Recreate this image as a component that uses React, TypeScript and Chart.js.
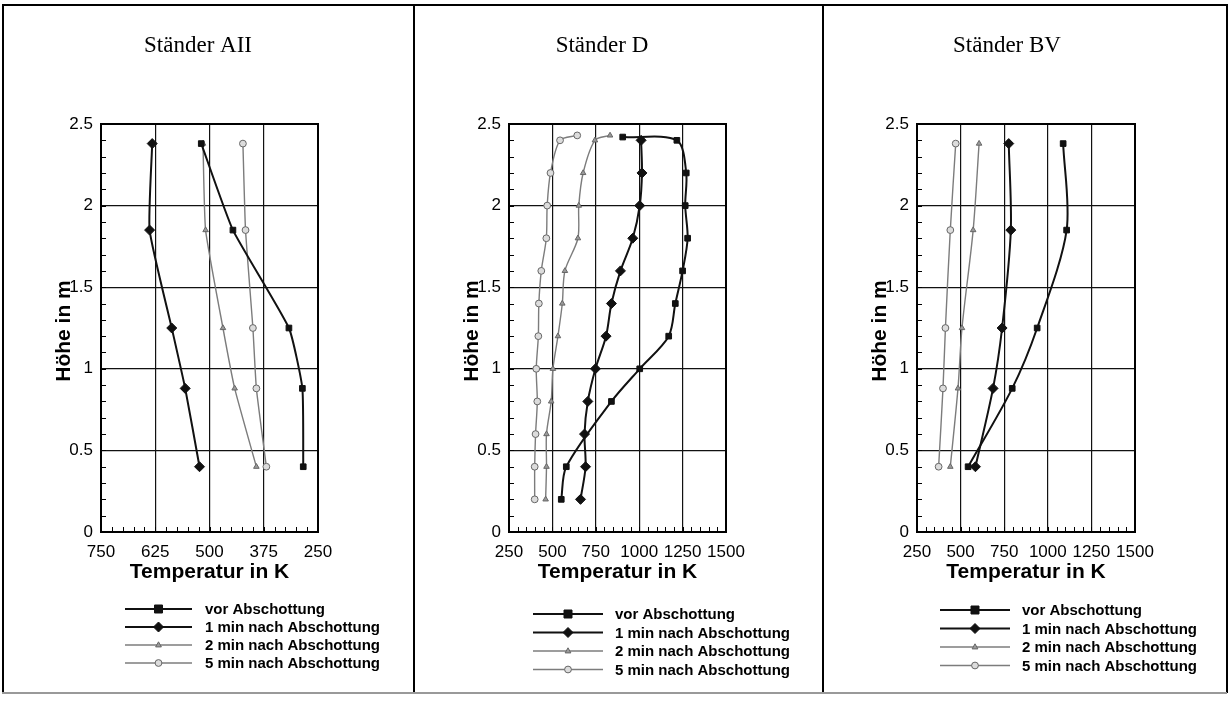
import React, { useEffect, useRef } from "react";
import { Chart, registerables } from "chart.js";
Chart.register(...registerables);

const SERIES_LABELS = [
  "vor Abschottung",
  "1 min nach Abschottung",
  "2 min nach Abschottung",
  "5 min nach Abschottung",
];

const Y_TICKS = [0, 0.5, 1, 1.5, 2, 2.5];

// Ständer AII
const A_HEIGHTS = [0.4, 0.88, 1.25, 1.85, 2.38];
const A_VOR = [284, 286, 317, 446, 519];
const A_1MIN = [523, 556, 587, 638, 632];
const A_2MIN = [392, 442, 469, 509, 515];
const A_5MIN = [369, 392, 400, 417, 423];
const A_X_TICKS = [750, 625, 500, 375, 250];

// Ständer D
const D_VOR_H = [0.2, 0.4, 0.8, 1.0, 1.2, 1.4, 1.6, 1.8, 2.0, 2.2, 2.4, 2.42];
const D_VOR = [551, 580, 840, 1003, 1170, 1208, 1250, 1279, 1265, 1271, 1217, 905];
const D_1MIN_H = [0.2, 0.4, 0.6, 0.8, 1.0, 1.2, 1.4, 1.6, 1.8, 2.0, 2.2, 2.4];
const D_1MIN = [662, 691, 685, 704, 748, 809, 840, 892, 963, 1003, 1016, 1011];
const D_2MIN_H = [0.2, 0.4, 0.6, 0.8, 1.0, 1.2, 1.4, 1.6, 1.8, 2.0, 2.2, 2.4, 2.43];
const D_2MIN = [461, 466, 466, 493, 503, 532, 557, 572, 647, 652, 677, 745, 832];
const D_5MIN_H = [0.2, 0.4, 0.6, 0.8, 1.0, 1.2, 1.4, 1.6, 1.8, 2.0, 2.2, 2.4, 2.43];
const D_5MIN = [398, 398, 403, 413, 407, 419, 422, 436, 465, 470, 489, 544, 643];
const D_X_TICKS = [250, 500, 750, 1000, 1250, 1500];

// Ständer BV
const B_HEIGHTS = [0.4, 0.88, 1.25, 1.85, 2.38];
const B_VOR = [543, 796, 939, 1108, 1088];
const B_1MIN = [585, 686, 738, 788, 776];
const B_2MIN = [441, 485, 508, 572, 606];
const B_5MIN = [374, 399, 413, 441, 472];
const B_X_TICKS = [250, 500, 750, 1000, 1250, 1500];

const STYLES = [
  { line: "#111", width: 2, point: "rect", radius: 4, fill: "#111", stroke: "#111" },
  { line: "#111", width: 2, point: "rectRot", radius: 5, fill: "#111", stroke: "#111" },
  { line: "#7c7c7c", width: 1.4, point: "triangle", radius: 3.2, fill: "#9a9a9a", stroke: "#666" },
  { line: "#7c7c7c", width: 1.4, point: "circle", radius: 3.4, fill: "#dcdcdc", stroke: "#666" },
];

const zip = (h: number[], t: number[]) => h.map((y, i) => ({ x: t[i], y }));

const PANELS = [
  {
    title: "Ständer AII",
    titleX: 198,
    cx: 0,
    cw: 414,
    plot: { l: 101, r: 318, t: 124, b: 532 },
    xMin: 250,
    xMax: 750,
    reverse: true,
    xTicks: A_X_TICKS,
    xMinor: 25,
    tension: 0.15,
    legend: { x0: 125, x1: 192, tx: 205, y0: 609, gap: 18 },
    series: [zip(A_HEIGHTS, A_VOR), zip(A_HEIGHTS, A_1MIN), zip(A_HEIGHTS, A_2MIN), zip(A_HEIGHTS, A_5MIN)],
  },
  {
    title: "Ständer D",
    titleX: 602,
    cx: 414,
    cw: 409,
    plot: { l: 509, r: 726, t: 124, b: 532 },
    xMin: 250,
    xMax: 1500,
    reverse: false,
    xTicks: D_X_TICKS,
    xMinor: 50,
    tension: 0.3,
    legend: { x0: 533, x1: 603, tx: 615, y0: 614, gap: 18.5 },
    series: [zip(D_VOR_H, D_VOR), zip(D_1MIN_H, D_1MIN), zip(D_2MIN_H, D_2MIN), zip(D_5MIN_H, D_5MIN)],
  },
  {
    title: "Ständer BV",
    titleX: 1007,
    cx: 823,
    cw: 406,
    plot: { l: 917, r: 1135, t: 124, b: 532 },
    xMin: 250,
    xMax: 1500,
    reverse: false,
    xTicks: B_X_TICKS,
    xMinor: 50,
    tension: 0.3,
    legend: { x0: 940, x1: 1010, tx: 1022, y0: 610, gap: 18.5 },
    series: [zip(B_HEIGHTS, B_VOR), zip(B_HEIGHTS, B_1MIN), zip(B_HEIGHTS, B_2MIN), zip(B_HEIGHTS, B_5MIN)],
  },
];

const H = 701;
const X_AXIS_H = 40;

function drawMarker(ctx: CanvasRenderingContext2D, kind: string, x: number, y: number, r: number, fill: string, stroke: string) {
  ctx.save();
  ctx.fillStyle = fill;
  ctx.strokeStyle = stroke;
  ctx.lineWidth = 1;
  ctx.beginPath();
  if (kind === "rect") {
    ctx.rect(x - r, y - r, 2 * r, 2 * r);
  } else if (kind === "rectRot") {
    ctx.moveTo(x, y - r);
    ctx.lineTo(x + r, y);
    ctx.lineTo(x, y + r);
    ctx.lineTo(x - r, y);
    ctx.closePath();
  } else if (kind === "triangle") {
    ctx.moveTo(x, y - r);
    ctx.lineTo(x + r * 0.9, y + r * 0.6);
    ctx.lineTo(x - r * 0.9, y + r * 0.6);
    ctx.closePath();
  } else {
    ctx.arc(x, y, r, 0, Math.PI * 2);
  }
  ctx.fill();
  ctx.stroke();
  ctx.restore();
}

function Panel({ p }: { p: (typeof PANELS)[number] }) {
  const ref = useRef<HTMLCanvasElement | null>(null);
  useEffect(() => {
    if (!ref.current) return;
    const decor = {
      id: "decor",
      afterDraw(chart: any) {
        const ctx: CanvasRenderingContext2D = chart.ctx;
        const { left, right, top, bottom } = chart.chartArea;
        const ys = chart.scales.y;
        const xs = chart.scales.x;
        ctx.save();
        ctx.strokeStyle = "#000";
        ctx.lineWidth = 1;
        ctx.beginPath();
        for (let i = 0; i <= 25; i++) {
          const y = Math.round(ys.getPixelForValue(i / 10)) + 0.5;
          ctx.moveTo(left, y);
          ctx.lineTo(left + 5, y);
        }
        const n = Math.round((p.xMax - p.xMin) / p.xMinor);
        for (let i = 0; i <= n; i++) {
          const x = Math.round(xs.getPixelForValue(p.xMin + i * p.xMinor)) + 0.5;
          ctx.moveTo(x, bottom);
          ctx.lineTo(x, bottom - 5);
        }
        ctx.stroke();
        ctx.lineWidth = 2;
        ctx.strokeRect(left, top, right - left, bottom - top);

        ctx.fillStyle = "#000";
        ctx.textAlign = "center";
        ctx.textBaseline = "middle";
        ctx.font = '23px "Liberation Serif"';
        ctx.fillText(p.title, p.titleX - p.cx, 46);

        ctx.font = 'bold 21px "Liberation Sans"';
        ctx.fillText("Temperatur in K", (left + right) / 2, 572);
        ctx.save();
        ctx.translate(left - 37, (top + bottom) / 2 + 3);
        ctx.rotate(-Math.PI / 2);
        ctx.fillText("Höhe in m", 0, 0);
        ctx.restore();

        // legend
        const L = p.legend;
        ctx.font = 'bold 15px "Liberation Sans"';
        ctx.textAlign = "left";
        SERIES_LABELS.forEach((label, i) => {
          const s = STYLES[i];
          const y = L.y0 + i * L.gap;
          ctx.strokeStyle = s.line;
          ctx.lineWidth = s.width;
          ctx.beginPath();
          ctx.moveTo(L.x0 - p.cx, y);
          ctx.lineTo(L.x1 - p.cx, y);
          ctx.stroke();
          drawMarker(ctx, s.point, (L.x0 + L.x1) / 2 - p.cx, y, s.radius, s.fill, s.stroke);
          ctx.fillStyle = "#000";
          ctx.fillText(label, L.tx - p.cx, y + 1);
        });
        ctx.restore();
      },
    };

    const chart = new Chart(ref.current, {
      type: "line",
      data: {
        datasets: p.series.map((data, i) => ({
          label: SERIES_LABELS[i],
          data,
          borderColor: STYLES[i].line,
          borderWidth: STYLES[i].width,
          pointStyle: STYLES[i].point as any,
          pointRadius: STYLES[i].radius,
          pointBackgroundColor: STYLES[i].fill,
          pointBorderColor: STYLES[i].stroke,
          pointBorderWidth: 1,
          tension: p.tension,
          fill: false,
        })),
      },
      options: {
        responsive: false,
        animation: false,
        devicePixelRatio: 1,
        layout: {
          padding: {
            left: 0,
            right: p.cx + p.cw - p.plot.r,
            top: p.plot.t,
            bottom: H - p.plot.b - X_AXIS_H,
          },
        },
        plugins: { legend: { display: false }, tooltip: { enabled: false }, title: { display: false } },
        scales: {
          x: {
            type: "linear",
            min: p.xMin,
            max: p.xMax,
            reverse: p.reverse,
            afterBuildTicks: (s: any) => {
              s.ticks = p.xTicks.map((v) => ({ value: v }));
            },
            afterFit: (s: any) => {
              s.height = X_AXIS_H;
            },
            grid: { color: "#111", lineWidth: 1.2, drawTicks: false },
            border: { display: false },
            ticks: {
              color: "#000",
              padding: 10,
              maxRotation: 0,
              autoSkip: false,
              font: { family: '"Liberation Sans"', size: 17 },
              callback: (v: any) => String(v),
            },
          },
          y: {
            type: "linear",
            min: 0,
            max: 2.5,
            afterBuildTicks: (s: any) => {
              s.ticks = Y_TICKS.map((v) => ({ value: v }));
            },
            afterFit: (s: any) => {
              s.width = p.plot.l - p.cx;
            },
            grid: { color: "#111", lineWidth: 1.2, drawTicks: false },
            border: { display: false },
            ticks: {
              color: "#000",
              padding: 8,
              autoSkip: false,
              font: { family: '"Liberation Sans"', size: 17 },
              callback: (v: any) => String(v),
            },
          },
        },
      },
      plugins: [decor],
    });
    return () => chart.destroy();
  }, [p]);
  return (
    <canvas
      ref={ref}
      width={p.cw}
      height={H}
      style={{ position: "absolute", left: p.cx, top: 0, width: p.cw, height: H }}
    />
  );
}

const line = (s: React.CSSProperties) => <div style={{ position: "absolute", background: "#000", ...s }} />;

export default function App() {
  return (
    <div style={{ position: "absolute", left: 0, top: 0, width: 1229, height: H, background: "#fff", overflow: "hidden" }}>
      {PANELS.map((p) => (
        <Panel key={p.title} p={p} />
      ))}
      {line({ left: 2, top: 4, width: 1225, height: 2 })}
      {line({ left: 2, top: 4, width: 2, height: 689 })}
      {line({ left: 1226, top: 4, width: 2, height: 689 })}
      {line({ left: 413, top: 4, width: 2, height: 689 })}
      {line({ left: 822, top: 4, width: 2, height: 689 })}
      {line({ left: 2, top: 692, width: 1225, height: 1.5, background: "#999" })}
    </div>
  );
}
